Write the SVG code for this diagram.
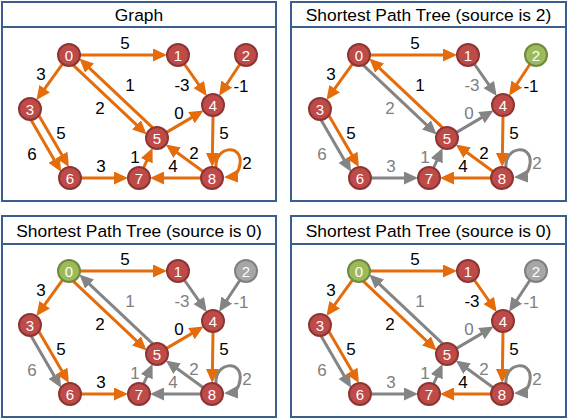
<svg xmlns="http://www.w3.org/2000/svg" width="568" height="420" viewBox="0 0 568 420">
<style>
.frame{fill:#fff;stroke:#3A5F8E;stroke-width:2}
.title{font-family:"Liberation Sans",Arial,sans-serif;font-size:17.4px;fill:#000;text-anchor:middle}
.o{fill:none;stroke:#E46C0A;stroke-width:3;marker-end:url(#ao)}
.g{fill:none;stroke:#848484;stroke-width:3;marker-end:url(#ag)}
.lo,.lg{font-family:"Liberation Sans",Arial,sans-serif;font-size:17px;text-anchor:middle}
.lo{fill:#000}
.lg{fill:#808080}
.nr{fill:#BE4B48;stroke:#8C3533;stroke-width:2}
.ng{fill:#9BBB59;stroke:#71893F;stroke-width:2}
.nx{fill:#A6A6A6;stroke:#808080;stroke-width:2}
.nt{font-family:"Liberation Sans",Arial,sans-serif;font-size:15px;fill:#fff;text-anchor:middle}
</style>
<defs>
<marker id="ao" markerUnits="userSpaceOnUse" markerWidth="14" markerHeight="13" refX="10" refY="6.5" orient="auto"><path d="M0,0 L14,6.5 L0,13 z" fill="#E46C0A"/></marker>
<marker id="ag" markerUnits="userSpaceOnUse" markerWidth="14" markerHeight="13" refX="10" refY="6.5" orient="auto"><path d="M0,0 L14,6.5 L0,13 z" fill="#848484"/></marker>
</defs>

<!-- Panel frames -->
<g id="frames">
<rect class="frame" x="2" y="2" width="274" height="199"/>
<rect class="frame" x="2" y="2" width="274" height="25"/>
<text class="title" x="139" y="21">Graph</text>
<rect class="frame" x="291" y="2" width="275" height="199"/>
<rect class="frame" x="291" y="2" width="275" height="25"/>
<text class="title" x="428.5" y="21">Shortest Path Tree (source is 2)</text>
<rect class="frame" x="2" y="216" width="274" height="201"/>
<rect class="frame" x="2" y="216" width="274" height="28"/>
<text class="title" x="139" y="237">Shortest Path Tree (source is 0)</text>
<rect class="frame" x="291" y="216" width="275" height="201"/>
<rect class="frame" x="291" y="216" width="275" height="28"/>
<text class="title" x="428.5" y="237">Shortest Path Tree (source is 0)</text>
</g>

<!-- Panel 1 -->
<g id="panel1">
<g id="p1-connectors">
<path class="o" d="M80,55 L163,55"/>
<path class="o" d="M62.6,63.9 L38.8,96.8"/>
<path class="o" d="M73.2,65.1 L143.7,131.7"/>
<path class="o" d="M152.8,127.9 L82.3,61.3"/>
<path class="o" d="M184.3,64 L204.4,92.7"/>
<path class="o" d="M239.9,64.2 L221.3,92.5"/>
<path class="o" d="M166.5,132.4 L200.1,112.6"/>
<path class="o" d="M213,116 L212.3,163"/>
<path class="o" d="M216,168 C214,146 243,143 240,164 C239,172 235,176.5 228,177"/>
<path class="o" d="M203.1,171.5 L169.1,146.8"/>
<path class="o" d="M201,178 L154,178"/>
<path class="o" d="M143.5,168 L150.9,151.7"/>
<path class="o" d="M81,178 L124,178"/>
<path class="o" d="M38.9,115.4 L66.9,163.6"/>
<path class="o" d="M31.1,119.9 L59.1,168.2"/>
</g>
<g id="p1-labels">
<text class="lo" x="125" y="49">5</text>
<text class="lo" x="41" y="80">3</text>
<text class="lo" x="100" y="114">2</text>
<text class="lo" x="130" y="91">1</text>
<text class="lo" x="182" y="91">-3</text>
<text class="lo" x="241" y="92">-1</text>
<text class="lo" x="179" y="119">0</text>
<text class="lo" x="224" y="139">5</text>
<text class="lo" x="247" y="169">2</text>
<text class="lo" x="194" y="159">2</text>
<text class="lo" x="173" y="172">4</text>
<text class="lo" x="135" y="163">1</text>
<text class="lo" x="101" y="172">3</text>
<text class="lo" x="61" y="139">5</text>
<text class="lo" x="32" y="160">6</text>
</g>
<g id="p1-n0"><circle class="nr" cx="69" cy="55" r="11"/><text class="nt" x="69" y="60.5">0</text></g>
<g id="p1-n1"><circle class="nr" cx="178" cy="55" r="11"/><text class="nt" x="178" y="60.5">1</text></g>
<g id="p1-n2"><circle class="nr" cx="246" cy="55" r="11"/><text class="nt" x="246" y="60.5">2</text></g>
<g id="p1-n3"><circle class="nr" cx="30" cy="109" r="11"/><text class="nt" x="30" y="114.5">3</text></g>
<g id="p1-n4"><circle class="nr" cx="213" cy="105" r="11"/><text class="nt" x="213" y="110.5">4</text></g>
<g id="p1-n5"><circle class="nr" cx="157" cy="138" r="11"/><text class="nt" x="157" y="143.5">5</text></g>
<g id="p1-n6"><circle class="nr" cx="70" cy="178" r="11"/><text class="nt" x="70" y="183.5">6</text></g>
<g id="p1-n7"><circle class="nr" cx="139" cy="178" r="11"/><text class="nt" x="139" y="183.5">7</text></g>
<g id="p1-n8"><circle class="nr" cx="212" cy="178" r="11"/><text class="nt" x="212" y="183.5">8</text></g>
</g>

<!-- Panel 2 -->
<g id="panel2" transform="translate(290,0)">
<g id="p2-connectors">
<path class="g" d="M184.3,64 L204.4,92.7"/>
<path class="g" d="M73.2,65.1 L143.7,131.7"/>
<path class="g" d="M166.5,132.4 L200.1,112.6"/>
<path class="g" d="M31.1,119.9 L59.1,168.2"/>
<path class="g" d="M81,178 L124,178"/>
<path class="g" d="M143.5,168 L150.9,151.7"/>
<path class="g" d="M216,168 C214,146 243,143 240,164 C239,172 235,176.5 228,177"/>
<path class="o" d="M80,55 L163,55"/>
<path class="o" d="M62.6,63.9 L38.8,96.8"/>
<path class="o" d="M152.8,127.9 L82.3,61.3"/>
<path class="o" d="M239.9,64.2 L221.3,92.5"/>
<path class="o" d="M213,116 L212.3,163"/>
<path class="o" d="M203.1,171.5 L169.1,146.8"/>
<path class="o" d="M201,178 L154,178"/>
<path class="o" d="M38.9,115.4 L66.9,163.6"/>
</g>
<g id="p2-labels">
<text class="lo" x="125" y="49">5</text>
<text class="lo" x="41" y="80">3</text>
<text class="lg" x="100" y="114">2</text>
<text class="lo" x="130" y="91">1</text>
<text class="lg" x="182" y="91">-3</text>
<text class="lo" x="241" y="92">-1</text>
<text class="lg" x="179" y="119">0</text>
<text class="lo" x="224" y="139">5</text>
<text class="lg" x="247" y="169">2</text>
<text class="lo" x="194" y="159">2</text>
<text class="lo" x="173" y="172">4</text>
<text class="lg" x="135" y="163">1</text>
<text class="lg" x="101" y="172">3</text>
<text class="lo" x="61" y="139">5</text>
<text class="lg" x="32" y="160">6</text>
</g>
<g id="p2-n0"><circle class="nr" cx="69" cy="55" r="11"/><text class="nt" x="69" y="60.5">0</text></g>
<g id="p2-n1"><circle class="nr" cx="178" cy="55" r="11"/><text class="nt" x="178" y="60.5">1</text></g>
<g id="p2-n2"><circle class="ng" cx="246" cy="55" r="11"/><text class="nt" x="246" y="60.5">2</text></g>
<g id="p2-n3"><circle class="nr" cx="30" cy="109" r="11"/><text class="nt" x="30" y="114.5">3</text></g>
<g id="p2-n4"><circle class="nr" cx="213" cy="105" r="11"/><text class="nt" x="213" y="110.5">4</text></g>
<g id="p2-n5"><circle class="nr" cx="157" cy="138" r="11"/><text class="nt" x="157" y="143.5">5</text></g>
<g id="p2-n6"><circle class="nr" cx="70" cy="178" r="11"/><text class="nt" x="70" y="183.5">6</text></g>
<g id="p2-n7"><circle class="nr" cx="139" cy="178" r="11"/><text class="nt" x="139" y="183.5">7</text></g>
<g id="p2-n8"><circle class="nr" cx="212" cy="178" r="11"/><text class="nt" x="212" y="183.5">8</text></g>
</g>

<!-- Panel 3 -->
<g id="panel3" transform="translate(0,216)">
<g id="p3-connectors">
<path class="g" d="M152.8,127.9 L82.3,61.3"/>
<path class="g" d="M184.3,64 L204.4,92.7"/>
<path class="g" d="M239.9,64.2 L221.3,92.5"/>
<path class="g" d="M31.1,119.9 L59.1,168.2"/>
<path class="g" d="M143.5,168 L150.9,151.7"/>
<path class="g" d="M203.1,171.5 L169.1,146.8"/>
<path class="g" d="M201,178 L154,178"/>
<path class="g" d="M216,168 C214,146 243,143 240,164 C239,172 235,176.5 228,177"/>
<path class="o" d="M80,55 L163,55"/>
<path class="o" d="M62.6,63.9 L38.8,96.8"/>
<path class="o" d="M73.2,65.1 L143.7,131.7"/>
<path class="o" d="M166.5,132.4 L200.1,112.6"/>
<path class="o" d="M213,116 L212.3,163"/>
<path class="o" d="M38.9,115.4 L66.9,163.6"/>
<path class="o" d="M81,178 L124,178"/>
</g>
<g id="p3-labels">
<text class="lo" x="125" y="49">5</text>
<text class="lo" x="41" y="80">3</text>
<text class="lo" x="100" y="114">2</text>
<text class="lg" x="130" y="91">1</text>
<text class="lg" x="182" y="91">-3</text>
<text class="lg" x="241" y="92">-1</text>
<text class="lo" x="179" y="119">0</text>
<text class="lo" x="224" y="139">5</text>
<text class="lg" x="247" y="169">2</text>
<text class="lg" x="194" y="159">2</text>
<text class="lg" x="173" y="172">4</text>
<text class="lg" x="135" y="163">1</text>
<text class="lo" x="101" y="172">3</text>
<text class="lo" x="61" y="139">5</text>
<text class="lg" x="32" y="160">6</text>
</g>
<g id="p3-n0"><circle class="ng" cx="69" cy="55" r="11"/><text class="nt" x="69" y="60.5">0</text></g>
<g id="p3-n1"><circle class="nr" cx="178" cy="55" r="11"/><text class="nt" x="178" y="60.5">1</text></g>
<g id="p3-n2"><circle class="nx" cx="246" cy="55" r="11"/><text class="nt" x="246" y="60.5">2</text></g>
<g id="p3-n3"><circle class="nr" cx="30" cy="109" r="11"/><text class="nt" x="30" y="114.5">3</text></g>
<g id="p3-n4"><circle class="nr" cx="213" cy="105" r="11"/><text class="nt" x="213" y="110.5">4</text></g>
<g id="p3-n5"><circle class="nr" cx="157" cy="138" r="11"/><text class="nt" x="157" y="143.5">5</text></g>
<g id="p3-n6"><circle class="nr" cx="70" cy="178" r="11"/><text class="nt" x="70" y="183.5">6</text></g>
<g id="p3-n7"><circle class="nr" cx="139" cy="178" r="11"/><text class="nt" x="139" y="183.5">7</text></g>
<g id="p3-n8"><circle class="nr" cx="212" cy="178" r="11"/><text class="nt" x="212" y="183.5">8</text></g>
</g>

<!-- Panel 4 -->
<g id="panel4" transform="translate(290,216)">
<g id="p4-connectors">
<path class="g" d="M152.8,127.9 L82.3,61.3"/>
<path class="g" d="M239.9,64.2 L221.3,92.5"/>
<path class="g" d="M166.5,132.4 L200.1,112.6"/>
<path class="g" d="M31.1,119.9 L59.1,168.2"/>
<path class="g" d="M81,178 L124,178"/>
<path class="g" d="M143.5,168 L150.9,151.7"/>
<path class="g" d="M203.1,171.5 L169.1,146.8"/>
<path class="g" d="M216,168 C214,146 243,143 240,164 C239,172 235,176.5 228,177"/>
<path class="o" d="M80,55 L163,55"/>
<path class="o" d="M62.6,63.9 L38.8,96.8"/>
<path class="o" d="M73.2,65.1 L143.7,131.7"/>
<path class="o" d="M184.3,64 L204.4,92.7"/>
<path class="o" d="M213,116 L212.3,163"/>
<path class="o" d="M38.9,115.4 L66.9,163.6"/>
<path class="o" d="M201,178 L154,178"/>
</g>
<g id="p4-labels">
<text class="lo" x="125" y="49">5</text>
<text class="lo" x="41" y="80">3</text>
<text class="lo" x="100" y="114">2</text>
<text class="lg" x="130" y="91">1</text>
<text class="lo" x="182" y="91">-3</text>
<text class="lg" x="241" y="92">-1</text>
<text class="lg" x="179" y="119">0</text>
<text class="lo" x="224" y="139">5</text>
<text class="lg" x="247" y="169">2</text>
<text class="lg" x="194" y="159">2</text>
<text class="lo" x="173" y="172">4</text>
<text class="lg" x="135" y="163">1</text>
<text class="lg" x="101" y="172">3</text>
<text class="lo" x="61" y="139">5</text>
<text class="lg" x="32" y="160">6</text>
</g>
<g id="p4-n0"><circle class="ng" cx="69" cy="55" r="11"/><text class="nt" x="69" y="60.5">0</text></g>
<g id="p4-n1"><circle class="nr" cx="178" cy="55" r="11"/><text class="nt" x="178" y="60.5">1</text></g>
<g id="p4-n2"><circle class="nx" cx="246" cy="55" r="11"/><text class="nt" x="246" y="60.5">2</text></g>
<g id="p4-n3"><circle class="nr" cx="30" cy="109" r="11"/><text class="nt" x="30" y="114.5">3</text></g>
<g id="p4-n4"><circle class="nr" cx="213" cy="105" r="11"/><text class="nt" x="213" y="110.5">4</text></g>
<g id="p4-n5"><circle class="nr" cx="157" cy="138" r="11"/><text class="nt" x="157" y="143.5">5</text></g>
<g id="p4-n6"><circle class="nr" cx="70" cy="178" r="11"/><text class="nt" x="70" y="183.5">6</text></g>
<g id="p4-n7"><circle class="nr" cx="139" cy="178" r="11"/><text class="nt" x="139" y="183.5">7</text></g>
<g id="p4-n8"><circle class="nr" cx="212" cy="178" r="11"/><text class="nt" x="212" y="183.5">8</text></g>
</g>
</svg>
